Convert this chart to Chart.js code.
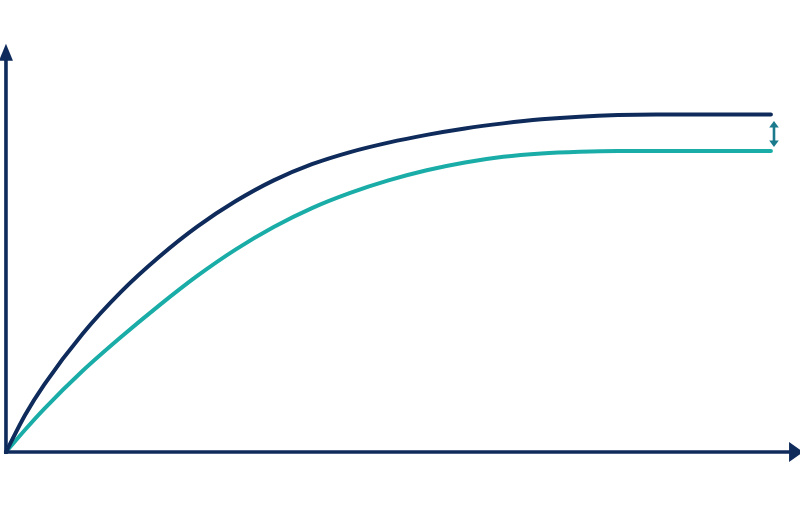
<!DOCTYPE html>
<html>
<head>
<meta charset="utf-8">
<script src="https://cdn.jsdelivr.net/npm/chart.js@4.4.0/dist/chart.umd.min.js"></script>
<style>
	html, body { margin: 0; padding: 0; background: #ffffff; }
	#chart { display: block; }
</style>
</head>
<body>
<canvas id="chart" width="800" height="520"></canvas>
<script>
'use strict';

// time axis (arbitrary units, 0..10) and the two curves
const times = [0, 0.25, 0.5, 1, 1.5, 2, 2.5, 3, 3.5, 4, 4.5, 5, 5.5, 6, 6.5, 7, 7.5, 8, 8.5, 9, 10];
const upperValues = [0, 11.0, 20.0, 35.0, 47.4, 57.8, 66.8, 74.3, 80.5, 85.3, 88.9, 91.7, 94.0, 95.9, 97.4, 98.6, 99.4, 99.85, 100, 100, 100];
const lowerValues = [0, 6.6, 12.8, 24.0, 34.0, 43.4, 52.2, 60.0, 66.7, 72.3, 76.8, 80.5, 83.5, 85.8, 87.5, 88.5, 89.0, 89.2, 89.2, 89.2, 89.2];

// where the gap marker sits
const gapAt = 10.04;
const gapFrom = 98.1;
const gapTo = 90.4;

const NAVY = '#0f2b5b';
const TEAL = '#1aada8';
const GAP_COLOR = '#1b7a8c';

const toPoints = function(xs, ys) {
	return xs.map((x, i) => ({x: x, y: ys[i]}));
};

const axesPlugin = {
	id: 'axesPlugin',
	afterDatasetsDraw(chart) {
		const ctx = chart.ctx;
		const xs = chart.scales.x;
		const ys = chart.scales.y;

		const ox = xs.getPixelForValue(0);
		const oy = ys.getPixelForValue(0);
		const top = ys.getPixelForValue(121);
		const right = xs.getPixelForValue(10.42);

		ctx.save();
		ctx.strokeStyle = NAVY;
		ctx.fillStyle = NAVY;
		ctx.lineWidth = 3.6;
		ctx.lineCap = 'butt';

		// y axis
		ctx.beginPath();
		ctx.moveTo(ox, oy + 2);
		ctx.lineTo(ox, top + 10);
		ctx.stroke();
		ctx.beginPath();
		ctx.moveTo(ox, top);
		ctx.lineTo(ox - 7, top + 17);
		ctx.lineTo(ox + 7, top + 17);
		ctx.closePath();
		ctx.fill();

		// x axis
		ctx.beginPath();
		ctx.moveTo(ox - 2, oy);
		ctx.lineTo(right - 10, oy);
		ctx.stroke();
		ctx.beginPath();
		ctx.moveTo(right, oy);
		ctx.lineTo(right - 14, oy - 10);
		ctx.lineTo(right - 14, oy + 10);
		ctx.closePath();
		ctx.fill();

		// double headed arrow between the plateaus
		const gx = xs.getPixelForValue(gapAt);
		const g1 = ys.getPixelForValue(gapFrom);
		const g2 = ys.getPixelForValue(gapTo);
		ctx.strokeStyle = GAP_COLOR;
		ctx.fillStyle = GAP_COLOR;
		ctx.lineWidth = 2.6;
		ctx.beginPath();
		ctx.moveTo(gx, g1 + 4);
		ctx.lineTo(gx, g2 - 4);
		ctx.stroke();
		ctx.beginPath();
		ctx.moveTo(gx, g1);
		ctx.lineTo(gx - 4.8, g1 + 6.5);
		ctx.lineTo(gx + 4.8, g1 + 6.5);
		ctx.closePath();
		ctx.fill();
		ctx.beginPath();
		ctx.moveTo(gx, g2);
		ctx.lineTo(gx - 4.8, g2 - 6.5);
		ctx.lineTo(gx + 4.8, g2 - 6.5);
		ctx.closePath();
		ctx.fill();
		ctx.restore();
	}
};

new Chart(document.getElementById('chart'), {
	type: 'line',
	data: {
		datasets: [
			{
				data: toPoints(times, upperValues),
				borderColor: NAVY,
				borderWidth: 4,
				borderCapStyle: 'round',
				cubicInterpolationMode: 'monotone',
				pointRadius: 0,
				fill: false
			},
			{
				data: toPoints(times, lowerValues),
				borderColor: TEAL,
				borderWidth: 4,
				borderCapStyle: 'round',
				cubicInterpolationMode: 'monotone',
				pointRadius: 0,
				fill: false
			}
		]
	},
	options: {
		responsive: false,
		animation: false,
		layout: { padding: 0 },
		plugins: {
			legend: { display: false },
			tooltip: { enabled: false }
		},
		scales: {
			x: { type: 'linear', display: false, min: -0.078, max: 10.38 },
			y: { type: 'linear', display: false, min: -20.15, max: 133.97 }
		}
	},
	plugins: [axesPlugin]
});
</script>
</body>
</html>
